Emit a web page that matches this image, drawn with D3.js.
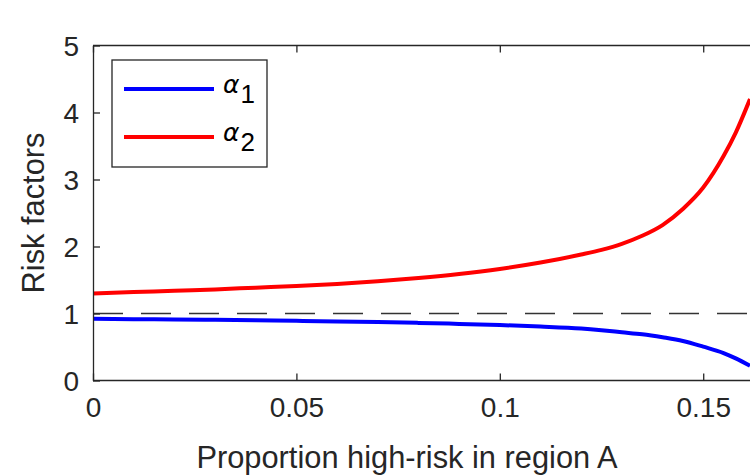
<!DOCTYPE html>
<html><head><meta charset="utf-8">
<script src="https://cdn.jsdelivr.net/npm/d3@7"></script>
<style>
html,body{margin:0;padding:0;background:#fff;}
svg{display:block;font-family:"Liberation Sans",Arial,sans-serif;}
</style></head>
<body><svg id="c" width="750" height="475"></svg>
<script>
const pValues = [0, 0.01, 0.02, 0.03, 0.04, 0.05, 0.06, 0.07, 0.08, 0.09, 0.10, 0.11, 0.12, 0.125, 0.13, 0.135, 0.14, 0.145, 0.15, 0.155, 0.158, 0.1615];
const alpha1 = [0.92, 0.915, 0.91, 0.905, 0.898, 0.89, 0.882, 0.872, 0.86, 0.845, 0.828, 0.805, 0.775, 0.75, 0.72, 0.69, 0.645, 0.59, 0.505, 0.41, 0.33, 0.22];
const alpha2 = [1.30, 1.32, 1.34, 1.36, 1.385, 1.41, 1.44, 1.48, 1.53, 1.59, 1.665, 1.76, 1.88, 1.95, 2.04, 2.16, 2.32, 2.56, 2.88, 3.35, 3.70, 4.20];
const xTicks = [0, 0.05, 0.1, 0.15];
const xTickLabels = ["0", "0.05", "0.1", "0.15"];
const yTicks = [0, 1, 2, 3, 4, 5];
const seriesNames = ["1", "2"];
const seriesColors = ["#0000ff", "#ff0000"];
const refLevel = 1;

const svg = d3.select("#c");
const L = 93, T = 45.5, B = 380.5, R = 750;
const x = d3.scaleLinear().domain([0, 0.1615]).range([L, R]);
const y = d3.scaleLinear().domain([0, 5]).range([B, T]);
const axisColor = "#262626";

const g = svg.append("g");
svg.append("defs").append("clipPath").attr("id","clip")
  .append("rect").attr("x", L).attr("y", T).attr("width", R - L + 10).attr("height", B - T);

g.append("line").attr("x1", x(0)).attr("x2", x(0.1615) + 5).attr("y1", y(refLevel)).attr("y2", y(refLevel))
  .attr("stroke", "#333").attr("stroke-width", 1.3).attr("stroke-dasharray", "30,18");

const line = d3.line().curve(d3.curveMonotoneX);
[alpha1, alpha2].forEach((vals, i) => {
  g.append("path")
    .attr("d", line(pValues.map((p, j) => [x(p), y(vals[j])])))
    .attr("fill", "none").attr("stroke", seriesColors[i]).attr("stroke-width", 4)
    .attr("clip-path", "url(#clip)");
});

const xAxisB = d3.axisBottom(x).tickValues(xTicks).tickFormat((d, i) => xTickLabels[i]).tickSizeInner(-7).tickSizeOuter(0).tickPadding(17);
const xAxisT = d3.axisTop(x).tickValues(xTicks).tickFormat("").tickSizeInner(-7).tickSizeOuter(0);
const yAxisL = d3.axisLeft(y).tickValues(yTicks).tickFormat(d3.format("d")).tickSizeInner(-7).tickSizeOuter(0).tickPadding(14);

function style(sel) {
  sel.select(".domain").attr("stroke", axisColor).attr("stroke-width", 1.3);
  sel.selectAll(".tick line").attr("stroke", axisColor).attr("stroke-width", 1.3);
  sel.selectAll("text").attr("fill", axisColor).attr("font-size", 28).attr("font-family", "Liberation Sans, Arial, sans-serif");
}
const gxb = svg.append("g").attr("transform", `translate(0,${B})`).call(xAxisB).call(style);
gxb.select(".domain").attr("d", `M${L},0H${R + 10}`);
const gxt = svg.append("g").attr("transform", `translate(0,${T})`).call(xAxisT).call(style);
gxt.select(".domain").attr("d", `M${L},0H${R + 10}`);
const gyl = svg.append("g").attr("transform", `translate(${L},0)`).call(yAxisL).call(style);
gyl.selectAll(".tick text").attr("dy", "0.36em");

svg.append("text").attr("x", 407).attr("y", 468).attr("text-anchor", "middle")
  .attr("font-size", 30.8).attr("fill", axisColor).text("Proportion high-risk in region A");
svg.append("text").attr("transform", `translate(44,${(T + B) / 2}) rotate(-90)`).attr("text-anchor", "middle")
  .attr("font-size", 30.8).attr("fill", axisColor).text("Risk factors");

const lg = svg.append("g");
lg.append("rect").attr("x", 112).attr("y", 60).attr("width", 155).attr("height", 107)
  .attr("fill", "#fff").attr("stroke", axisColor).attr("stroke-width", 1.3);
seriesNames.forEach((s, i) => {
  const yy = 89 + i * 48;
  lg.append("line").attr("x1", 124).attr("x2", 214).attr("y1", yy).attr("y2", yy)
    .attr("stroke", seriesColors[i]).attr("stroke-width", 4);
  const t = lg.append("text").attr("x", 223).attr("y", yy + 4).attr("font-size", 27).attr("fill", "#000");
  t.append("tspan").attr("font-style", "italic").attr("font-family", "DejaVu Sans, sans-serif").attr("font-size", 25).text("α");
  t.append("tspan").attr("dx", 1).attr("dy", 10).attr("font-size", 26).text(s);
});
</script></body></html>
